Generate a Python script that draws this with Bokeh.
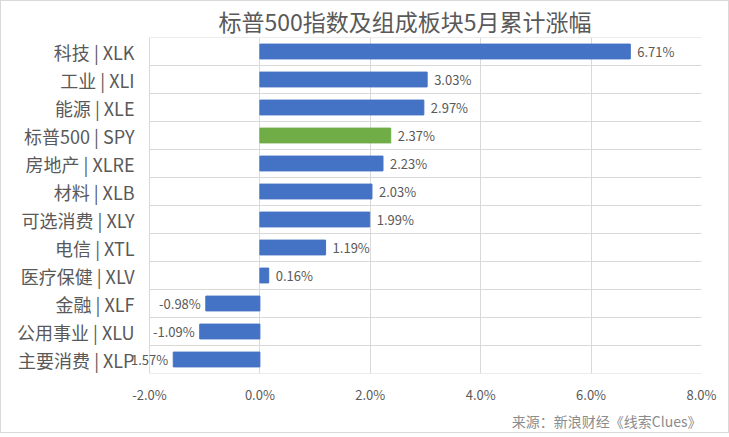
from bokeh.plotting import figure
from bokeh.models import ColumnDataSource, FixedTicker, Title, Range1d, Label
from bokeh.embed import file_html
from bokeh.resources import INLINE

title_text = "标普500指数及组成板块5月累计涨幅"
source_text = "来源：新浪财经《线索Clues》"
categories = ["科技 | XLK", "工业 | XLI", "能源 | XLE", "标普500 | SPY", "房地产 | XLRE",
              "材料 | XLB", "可选消费 | XLY", "电信 | XTL", "医疗保健 | XLV", "金融 | XLF",
              "公用事业 | XLU", "主要消费 | XLP"]
values = [6.71, 3.03, 2.97, 2.37, 2.23, 2.03, 1.99, 1.19, 0.16, -0.98, -1.09, -1.57]
x_ticks = [-2, 0, 2, 4, 6, 8]
x_tick_labels = ["-2.0%", "0.0%", "2.0%", "4.0%", "6.0%", "8.0%"]

FONT = "Noto Sans CJK SC"
BLUE = "#4472C4"
GREEN = "#70AD47"
GRID = "#d9d9d9"
TXT = "#595959"

n = len(categories)
ys = [n - i - 0.5 for i in range(n)]
colors = [GREEN if "SPY" in c else BLUE for c in categories]
labels = [f"{v:.2f}%" for v in values]

bars = ColumnDataSource(dict(y=ys, v=values, c=colors))

# the frame extends a little to the left of the -2% line so that value
# labels of negative bars may overlap the category labels (as in the original)
EXTRA = 41  # px
PX_PER_UNIT = 55.2
p = figure(frame_width=552 + EXTRA, frame_height=336, output_backend="svg", toolbar_location=None,
           x_range=Range1d(x_ticks[0] - EXTRA / PX_PER_UNIT, x_ticks[-1]), y_range=Range1d(0, n),
           min_border_left=148 - EXTRA, min_border_right=27, min_border_top=34, min_border_bottom=0)
p.styles = {"border": "1px solid #d9d9d9"}

p.title.text = title_text
p.title.align = "center"
p.title.text_font = FONT
p.title.text_font_size = "23px"
p.title.text_font_style = "normal"
p.title.text_color = TXT
p.title.standoff = 0
p.title.offset = 20

# horizontal separators between categories (limited to the chart area)
sep = list(range(n + 1))
p.segment(x0=[x_ticks[0]] * len(sep), x1=[x_ticks[-1]] * len(sep), y0=sep, y1=sep,
          line_color=GRID, line_width=1)

p.hbar(y="y", right="v", left=0, height=0.53, color="c", source=bars)

for y, v, t in zip(ys, values, labels):
    p.add_layout(Label(x=v, y=y, text=t, x_offset=7 if v >= 0 else -5,
                       text_align="left" if v >= 0 else "right", text_baseline="middle",
                       text_font=FONT, text_font_size="13px", text_color=TXT))

# axes
p.xaxis.ticker = FixedTicker(ticks=x_ticks)
p.xaxis.major_label_overrides = {t: l for t, l in zip(x_ticks, x_tick_labels)}
p.yaxis.ticker = FixedTicker(ticks=ys)
p.yaxis.major_label_overrides = {y: c for y, c in zip(ys, categories)}
for ax in (p.xaxis, p.yaxis):
    ax.axis_line_color = None
    ax.major_tick_line_color = None
    ax.minor_tick_line_color = None
    ax.major_tick_out = 0
    ax.major_tick_in = 0
    ax.major_label_text_font = FONT
    ax.major_label_text_color = TXT
p.xaxis.major_label_text_font_size = "13px"
p.yaxis.major_label_text_font_size = "18px"
p.xaxis.major_label_standoff = 11
p.yaxis.major_label_standoff = 15 - EXTRA

p.xgrid.ticker = FixedTicker(ticks=x_ticks)
p.ygrid.grid_line_color = None
p.xgrid.grid_line_color = GRID
p.outline_line_color = None

p.add_layout(Title(text=source_text, align="right", text_font=FONT, text_font_size="14px",
                   text_font_style="normal", text_color="#8c8c8c", standoff=4), "below")

open("out.html", "w").write(file_html(p, INLINE))
